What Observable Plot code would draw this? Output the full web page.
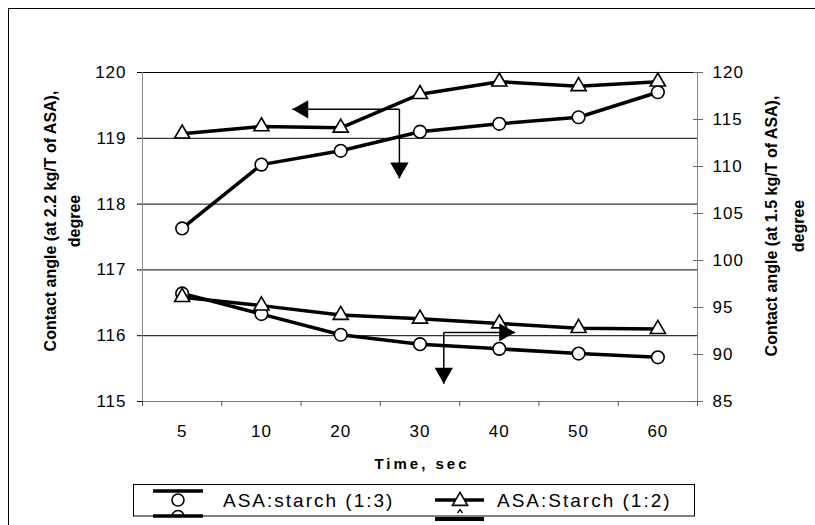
<!DOCTYPE html>
<html>
<head>
<meta charset="utf-8">
<script src="https://cdn.jsdelivr.net/npm/d3@7"></script>
<script src="https://cdn.jsdelivr.net/npm/@observablehq/plot@0.6"></script>
<style>
  html, body { margin: 0; background: #fff; overflow: hidden; }
  #wrap { position: relative; width: 815px; height: 525px; overflow: hidden; background: #fff; font-family: "Liberation Sans", Arial, sans-serif; }
  #border { position: absolute; left: 8px; top: 8px; width: 1200px; height: 800px; border-left: 1px solid #000; border-top: 1px solid #000; }
  #chart { position: absolute; left: 0; top: 0; }
  #legend { position: absolute; left: 0; top: 480px; }
</style>
</head>
<body>
<div id="wrap">
  <div id="border"></div>
  <div id="chart"></div>
  <svg id="legend" width="815" height="45" xmlns="http://www.w3.org/2000/svg"></svg>
</div>
<script>
// ---- data ----
const times = ["5", "10", "20", "30", "40", "50", "60"];
// left axis (at 2.2 kg/T of ASA)
const starch13Left = [117.63, 118.60, 118.81, 119.10, 119.22, 119.32, 119.70];
const starch12Left = [119.07, 119.18, 119.16, 119.67, 119.86, 119.79, 119.86];
// right axis (at 1.5 kg/T of ASA)
const starch13Right = [96.5, 94.3, 92.1, 91.1, 90.6, 90.1, 89.7];
const starch12Right = [96.1, 95.2, 94.2, 93.8, 93.3, 92.8, 92.7];
const leftTicks = [115, 116, 117, 118, 119, 120];
const rightTicks = [85, 90, 95, 100, 105, 110, 115, 120];
const seriesNames = ["ASA:starch (1:3)", "ASA:Starch (1:2)"];
const leftTitle = "Contact angle (at 2.2 kg/T of ASA),\ndegree";
const rightTitle = "Contact angle (at 1.5 kg/T of ASA),\ndegree";
const xTitle = "Time, sec";
// annotation arrows (x in category-index units, y in left-axis units)
const arrowUpper = {cx: 3.24, cy: 119.44, tipX: 1.89, tipY: 118.39};
const arrowLower = {cx: 3.80, cy: 116.05, tipX: 4.70, tipY: 115.27};

// ---- helpers ----
const toLeft = v => 115 + (v - 85) * 5 / 35;
const fromLeft = v => 85 + (v - 115) * 35 / 5;
const pts = (vals, conv) => vals.map((v, i) => ({x: i + 0.5, y: conv ? toLeft(v) : v}));

const s13L = pts(starch13Left, false);
const s12L = pts(starch12Left, false);
const s13R = pts(starch13Right, true);
const s12R = pts(starch12Right, true);

const links = [
  {x1: arrowUpper.cx, y1: arrowUpper.cy, x2: arrowUpper.tipX, y2: arrowUpper.cy},
  {x1: arrowUpper.cx, y1: arrowUpper.cy, x2: arrowUpper.cx, y2: arrowUpper.tipY},
  {x1: arrowLower.cx, y1: arrowLower.cy, x2: arrowLower.tipX, y2: arrowLower.cy},
  {x1: arrowLower.cx, y1: arrowLower.cy, x2: arrowLower.cx, y2: arrowLower.tipY}
];
const ah = 10.6; // apex offset
const heads = [
  {x: arrowUpper.tipX, y: arrowUpper.cy, rot: -90, dx: ah, dy: 0},
  {x: arrowUpper.cx, y: arrowUpper.tipY, rot: 180, dx: 0, dy: -ah},
  {x: arrowLower.tipX, y: arrowLower.cy, rot: 90, dx: -ah, dy: 0},
  {x: arrowLower.cx, y: arrowLower.tipY, rot: 180, dx: 0, dy: -ah}
];

const lineStyle = {x: "x", y: "y", stroke: "#000", strokeWidth: 3.5, strokeLinejoin: "round"};
const circleStyle = {x: "x", y: "y", symbol: "circle", r: 6.3, fill: "#fff", stroke: "#000", strokeWidth: 1.6};
const triStyle = {x: "x", y: "y", symbol: "triangle", r: 5.6, fill: "#fff", stroke: "#000", strokeWidth: 1.6};

const marks = [
  Plot.ruleY(leftTicks.slice(1), {stroke: "#000", strokeWidth: 1}),
  Plot.ruleY([115], {stroke: "#777", strokeWidth: 1}),
  Plot.ruleX([0, 7], {stroke: "#888", strokeWidth: 1}),
  Plot.axisY(leftTicks, {anchor: "left", tickSize: 5, tickPadding: 11, fontSize: 17, stroke: "#000", fill: "#000",
    tickFormat: d => String(d)}),
  Plot.axisY(rightTicks.map(toLeft), {anchor: "right", tickSize: 10, dx: -5, tickPadding: 10, fontSize: 17, stroke: "#666", fill: "#000",
    tickFormat: d => String(Math.round(fromLeft(d)))}),
  Plot.axisX(d3.range(0, 8), {anchor: "bottom", tickSize: 5, stroke: "#555", tickFormat: () => ""}),
  Plot.axisX(times.map((d, i) => i + 0.5), {anchor: "bottom", tickSize: 0, tickPadding: 23, fontSize: 17, fill: "#000",
    tickFormat: d => times[Math.floor(d)]}),
  // series
  Plot.line(s13L, lineStyle), Plot.dot(s13L, circleStyle),
  Plot.line(s12L, lineStyle), Plot.dot(s12L, triStyle),
  Plot.line(s13R, lineStyle), Plot.dot(s13R, circleStyle),
  Plot.line(s12R, lineStyle), Plot.dot(s12R, triStyle),
  // arrows
  Plot.link(links, {x1: "x1", y1: "y1", x2: "x2", y2: "y2", stroke: "#000", strokeWidth: 1.5}),
  ...heads.map(h => Plot.dot([h], {x: "x", y: "y", symbol: "triangle", r: 6.8, fill: "#000", stroke: "none", rotate: h.rot, dx: h.dx, dy: h.dy})),
  // titles
  Plot.text([leftTitle], {frameAnchor: "left", textAnchor: "middle", lineAnchor: "middle", dx: -82.5, dy: -16, rotate: -90,
    fontWeight: "bold", fontSize: 16, lineHeight: 1.56, fill: "#000"}),
  Plot.text([rightTitle], {frameAnchor: "right", textAnchor: "middle", lineAnchor: "middle", dx: 84.5, dy: -11, rotate: -90,
    fontWeight: "bold", fontSize: 16, lineHeight: 1.65, fill: "#000"}),
  Plot.text([xTitle], {frameAnchor: "bottom", textAnchor: "middle", lineAnchor: "middle", dx: 2, dy: 63, fontWeight: "bold", fontSize: 15, fill: "#000"})
];

const chart = Plot.plot({
  width: 815,
  height: 480,
  marginLeft: 142,
  marginRight: 118,
  marginTop: 72,
  marginBottom: 79,
  x: {type: "linear", domain: [0, 7]},
  y: {type: "linear", domain: [115, 120]},
  style: {fontFamily: "'Liberation Sans', Arial, sans-serif", fontSize: "17px", background: "transparent", color: "#000", overflow: "visible"},
  marks
});
document.getElementById("chart").appendChild(chart);

// letter spacing tweaks (text styling only)
const tickTexts = new Set([...times, ...leftTicks.map(String), ...rightTicks.map(String)]);
d3.select(chart).selectAll("text").each(function () {
  const t = this.textContent;
  if (t === xTitle) this.style.letterSpacing = "3px";
  else if (tickTexts.has(t)) this.style.letterSpacing = "1px";
});

// ---- legend ----
const lg = d3.select("#legend");
const oy = 480;
lg.append("rect").attr("x", 133.5).attr("y", 484.5 - oy).attr("width", 561).attr("height", 31.5)
  .attr("fill", "#fff").attr("stroke", "#000").attr("stroke-width", 1);
// item 1
lg.append("line").attr("x1", 153).attr("x2", 203).attr("y1", 491 - oy).attr("y2", 491 - oy).attr("stroke", "#000").attr("stroke-width", 3.5);
lg.append("circle").attr("cx", 178).attr("cy", 500 - oy).attr("r", 6).attr("fill", "#fff").attr("stroke", "#000").attr("stroke-width", 1.6);
lg.append("path").attr("d", `M172,${516.5 - oy} A6,6 0 0 1 184,${516.5 - oy}`).attr("fill", "#fff").attr("stroke", "#000").attr("stroke-width", 1.6);
lg.append("line").attr("x1", 153).attr("x2", 203).attr("y1", 516 - oy).attr("y2", 516 - oy).attr("stroke", "#000").attr("stroke-width", 3.5);
lg.append("text").attr("x", 223).attr("y", 507 - oy).attr("font-size", 19).attr("letter-spacing", "2px")
  .attr("font-family", "'Liberation Sans', Arial, sans-serif").text(seriesNames[0]);
// item 2
lg.append("line").attr("x1", 435).attr("x2", 484).attr("y1", 500 - oy).attr("y2", 500 - oy).attr("stroke", "#000").attr("stroke-width", 3.5);
const tri = d3.symbol(d3.symbolTriangle, Math.PI * 5.6 * 5.6)();
lg.append("path").attr("d", tri).attr("transform", `translate(460,${501 - oy})`).attr("fill", "#fff").attr("stroke", "#000").attr("stroke-width", 1.6);
lg.append("path").attr("d", `M457.5,${513 - oy} L460,${509.5 - oy} L462.5,${513 - oy}`).attr("fill", "none").attr("stroke", "#000").attr("stroke-width", 1.3);
lg.append("line").attr("x1", 435).attr("x2", 484).attr("y1", 519 - oy).attr("y2", 519 - oy).attr("stroke", "#000").attr("stroke-width", 4);
lg.append("text").attr("x", 497).attr("y", 507 - oy).attr("font-size", 19).attr("letter-spacing", "2px")
  .attr("font-family", "'Liberation Sans', Arial, sans-serif").text(seriesNames[1]);
</script>
</body>
</html>
